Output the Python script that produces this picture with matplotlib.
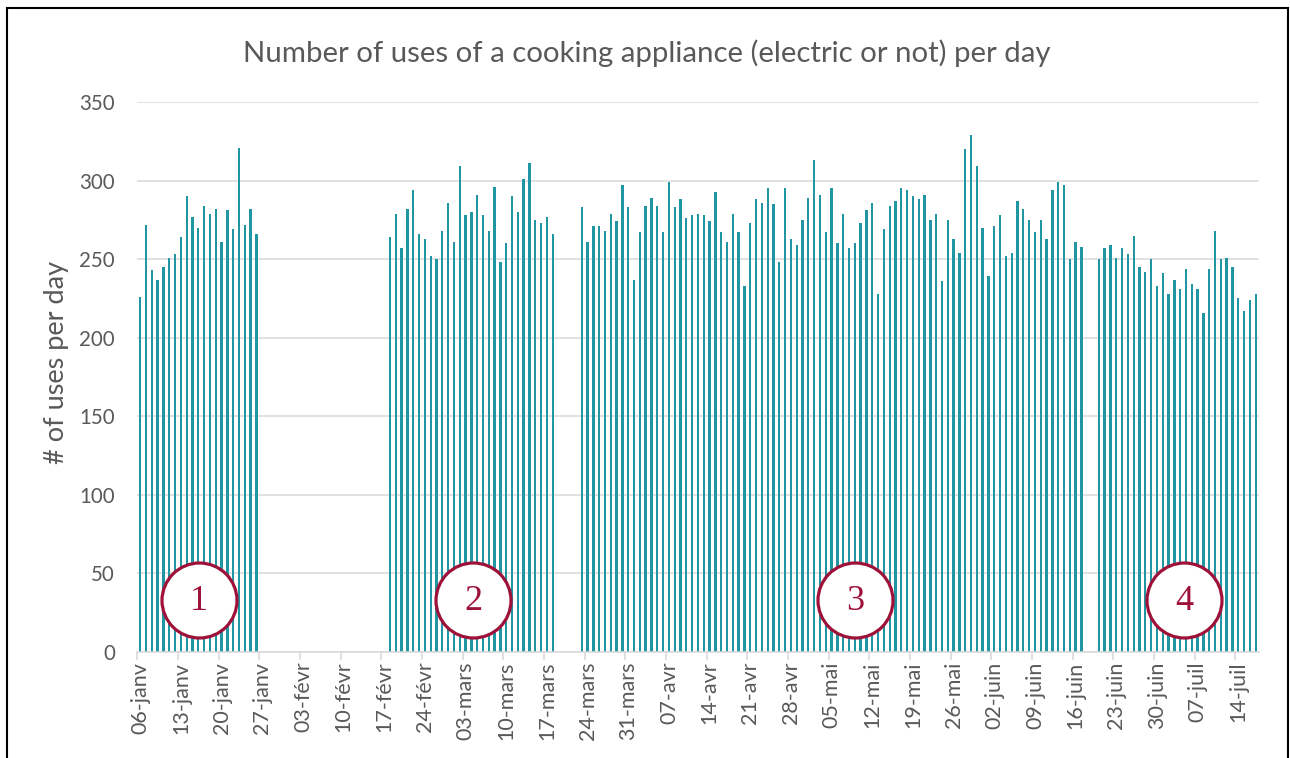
import numpy as np
import pandas as pd
import matplotlib
matplotlib.use('Agg')
import matplotlib.pyplot as plt
from matplotlib.patches import Rectangle

# daily counts, one list per recording period
first_day = '2019-01-06'
last_day = '2019-07-17'

period1_start = '2019-01-06'
period1 = [226, 272, 243, 237, 245, 251, 253, 264, 290, 277, 270, 284, 279, 282,
           261, 281, 269, 321, 272, 282, 266]

period2_start = '2019-02-18'
period2 = [264, 279, 257, 282, 294, 266, 263, 252, 250, 268, 286, 261, 309, 278,
           280, 291, 278, 268, 296, 248, 260, 290, 280, 301, 311, 275, 273, 277, 266]

period3_start = '2019-03-23'
period3 = [283, 261, 271, 271, 268, 279, 274, 297, 283, 237, 267, 284, 289, 284,
           267, 299, 283, 288, 276, 278, 279, 278, 274, 293, 267, 261, 279, 267, 233,
           273, 288, 286, 295, 285, 248, 295, 263, 259, 275, 289, 313, 291, 267,
           295, 260, 279, 257, 260, 273, 281, 286, 228, 269, 284, 287, 295, 294,
           290, 288, 291, 275, 279, 236, 275, 263, 254, 320, 329, 309, 270, 239,
           271, 278, 252, 254, 287, 282, 275, 267, 275, 263, 294, 299, 297, 250, 261, 258]

period4_start = '2019-06-20'
period4 = [250, 257, 259, 251, 257, 253, 265, 245, 242, 250, 233, 241, 228, 237,
           231, 244, 234, 231, 216, 244, 268, 250, 251, 245, 225, 217, 224, 228]

period_labels = ['1', '2', '3', '4']
mois = ['janv', 'févr', 'mars', 'avr', 'mai', 'juin', 'juil', 'août', 'sept', 'oct', 'nov', 'déc']

# put everything on one daily axis, missing days stay empty
days = pd.date_range(first_day, last_day, freq='D')
values = pd.Series(np.nan, index=days)
for start, vals in [(period1_start, period1), (period2_start, period2),
                    (period3_start, period3), (period4_start, period4)]:
    values[pd.date_range(start, periods=len(vals), freq='D')] = vals

x = np.arange(len(days))
has_data = ~values.isna().values

GRAY = '#595959'
LINE = '#d9d9d9'
BAR = '#2196A3'
RED = '#9E1239'

fig = plt.figure(figsize=(12.9, 7.58), dpi=100)
ax = fig.add_axes([137.3 / 1290, 1 - 652 / 758, (1258.6 - 137.3) / 1290, 550 / 758])

ax.bar(x[has_data], values.values[has_data], width=0.4, color=BAR, zorder=2)

ax.set_xlim(-0.5, len(days) - 0.5)
ax.set_ylim(0, 350)
ax.set_yticks(np.arange(0, 351, 50))
ax.grid(axis='y', color=LINE, lw=1.1, zorder=0)

# labels every week, tick marks sit between days
ax.set_xticks(x[::7])
ax.set_xticklabels(['%02d-%s' % (d.day, mois[d.month - 1]) for d in days[::7]],
                   rotation=90, fontsize=15.5, color=GRAY, family='Lato')
ax.set_xticks(x[::7] - 0.5, minor=True)
ax.tick_params(axis='x', which='major', length=0, pad=7)
ax.tick_params(axis='x', which='minor', length=6, color=LINE, width=1.1)
ax.tick_params(axis='y', length=0, pad=16, labelsize=14.8, labelcolor=GRAY)
for lab in ax.get_yticklabels():
    lab.set_family('Lato')

for side in ['left', 'right', 'top']:
    ax.spines[side].set_visible(False)
ax.spines['bottom'].set_color(LINE)
ax.spines['bottom'].set_linewidth(1.1)

ax.set_ylabel('# of uses per day', fontsize=19.5, color=GRAY, family='Lato')
ax.yaxis.set_label_coords(-0.061, 0.527)

fig.text(647 / 1290, 1 - 53 / 758, 'Number of uses of a cooking appliance (electric or not) per day',
         ha='center', va='center', fontsize=21.2, color=GRAY, family='Lato')

# period markers
circle_x = [10.1, 57.3, 123.0, 179.7]
for cx, lab in zip(circle_x, period_labels):
    ax.plot(cx, 33, marker='o', ms=54, mfc='white', mec=RED, mew=2.3, zorder=3)
    ax.text(cx, 32, lab, ha='center', va='center', fontsize=26, color=RED,
            family='Liberation Serif', zorder=4)

# outer chart frame
fig.patches.append(Rectangle((7 / 1290, -0.01), 1281 / 1290, 1.01 - 8 / 758,
                             transform=fig.transFigure, fill=False, ec='black', lw=1.5))

fig.savefig('out.png', dpi=100, facecolor='white')
